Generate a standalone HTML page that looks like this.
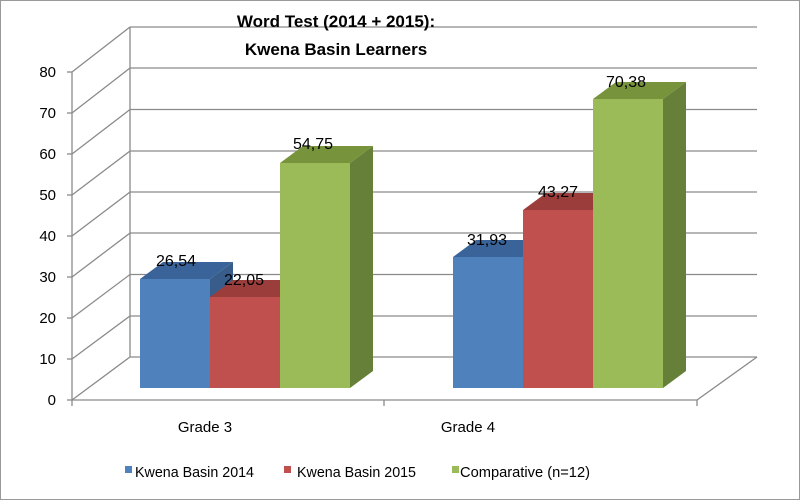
<!DOCTYPE html>
<html><head><meta charset="utf-8"><style>
html,body{margin:0;padding:0;background:#fff}
svg{display:block}
text{font-family:"Liberation Sans",sans-serif;fill:#000}
</style></head><body>
<svg width="800" height="500" viewBox="0 0 800 500" xmlns="http://www.w3.org/2000/svg">
<rect x="0.5" y="0.5" width="799" height="499" fill="#fff" stroke="#999"/>
<g stroke="#8a8a8a" stroke-width="1.3" fill="none">
<!-- back horizontal gridlines -->
<line x1="130" y1="27" x2="757" y2="27"/>
<line x1="130" y1="68" x2="757" y2="68"/>
<line x1="130" y1="109.5" x2="757" y2="109.5"/>
<line x1="130" y1="151" x2="757" y2="151"/>
<line x1="130" y1="192" x2="757" y2="192"/>
<line x1="130" y1="233" x2="757" y2="233"/>
<line x1="130" y1="274.5" x2="757" y2="274.5"/>
<line x1="130" y1="316" x2="757" y2="316"/>
<line x1="130" y1="357" x2="757" y2="357"/>
<!-- back wall left -->
<line x1="130" y1="27" x2="130" y2="357"/>
<!-- diagonals -->
<line x1="72" y1="72" x2="130" y2="27"/>
<line x1="72" y1="113" x2="130" y2="68"/>
<line x1="72" y1="154" x2="130" y2="109.5"/>
<line x1="72" y1="195" x2="130" y2="151"/>
<line x1="72" y1="236" x2="130" y2="192"/>
<line x1="72" y1="277" x2="130" y2="233"/>
<line x1="72" y1="318" x2="130" y2="274.5"/>
<line x1="72" y1="359" x2="130" y2="316"/>
<line x1="72" y1="400" x2="130" y2="357"/>
<!-- front axis -->
<line x1="72" y1="72" x2="72" y2="400"/>
<line x1="67" y1="72" x2="72" y2="72"/><line x1="67" y1="113" x2="72" y2="113"/><line x1="67" y1="154" x2="72" y2="154"/><line x1="67" y1="195" x2="72" y2="195"/><line x1="67" y1="236" x2="72" y2="236"/><line x1="67" y1="277" x2="72" y2="277"/><line x1="67" y1="318" x2="72" y2="318"/><line x1="67" y1="359" x2="72" y2="359"/><line x1="67" y1="400" x2="72" y2="400"/>
<line x1="72" y1="400" x2="697" y2="400"/>
<line x1="697" y1="400" x2="757" y2="357"/>
<line x1="72" y1="400" x2="72" y2="406"/><line x1="384" y1="400" x2="384" y2="406"/><line x1="697" y1="400" x2="697" y2="406"/>
</g>
<!-- Grade 3 bars -->
<g>
<polygon points="210,279 233,262 233,371 210,388" fill="#385D8A"/>
<polygon points="140,279 210,279 233,262 163,262" fill="#3A6499"/>
<rect x="140" y="279" width="70" height="109" fill="#4F81BD"/>
<polygon points="280,297 303,280 303,371 280,388" fill="#8C3836"/>
<polygon points="210,297 280,297 303,280 233,280" fill="#9B3D3A"/>
<rect x="210" y="297" width="70" height="91" fill="#C0504D"/>
<polygon points="350,163 373,146 373,371 350,388" fill="#66803A"/>
<polygon points="280,163 350,163 373,146 303,146" fill="#77933C"/>
<rect x="280" y="163" width="70" height="225" fill="#9BBB59"/>
</g>
<!-- Grade 4 bars -->
<g>
<polygon points="523,257 546,240 546,371 523,388" fill="#385D8A"/>
<polygon points="453,257 523,257 546,240 476,240" fill="#3A6499"/>
<rect x="453" y="257" width="70" height="131" fill="#4F81BD"/>
<polygon points="593,210 616,193 616,371 593,388" fill="#8C3836"/>
<polygon points="523,210 593,210 616,193 546,193" fill="#9B3D3A"/>
<rect x="523" y="210" width="70" height="178" fill="#C0504D"/>
<polygon points="663,99 686,82 686,371 663,388" fill="#66803A"/>
<polygon points="593,99 663,99 686,82 616,82" fill="#77933C"/>
<rect x="593" y="99" width="70" height="289" fill="#9BBB59"/>
</g>
<!-- data labels -->
<g font-size="16" text-anchor="middle">
<text x="176" y="266">26,54</text>
<text x="244" y="285">22,05</text>
<text x="313" y="149">54,75</text>
<text x="487" y="245">31,93</text>
<text x="558" y="197">43,27</text>
<text x="626" y="87">70,38</text>
</g>
<!-- y labels -->
<g font-size="15" text-anchor="end">
<text x="56" y="77">80</text><text x="56" y="118">70</text><text x="56" y="159">60</text><text x="56" y="200">50</text><text x="56" y="241">40</text><text x="56" y="282">30</text><text x="56" y="323">20</text><text x="56" y="364">10</text><text x="56" y="405">0</text>
</g>
<!-- title -->
<g font-size="17" font-weight="bold" text-anchor="middle">
<text x="336" y="27">Word Test (2014 + 2015):</text>
<text x="336" y="55">Kwena Basin Learners</text>
</g>
<!-- categories -->
<g font-size="15" text-anchor="middle">
<text x="205" y="432">Grade 3</text>
<text x="468" y="432">Grade 4</text>
</g>
<!-- legend -->
<rect x="125" y="466" width="7" height="7" fill="#4F81BD"/>
<text x="135" y="477" font-size="15" textLength="119" lengthAdjust="spacingAndGlyphs">Kwena Basin 2014</text>
<rect x="284" y="466" width="7" height="7" fill="#C0504D"/>
<text x="297" y="477" font-size="15" textLength="119" lengthAdjust="spacingAndGlyphs">Kwena Basin 2015</text>
<rect x="452" y="466" width="7" height="7" fill="#9BBB59"/>
<text x="460" y="477" font-size="15" textLength="130" lengthAdjust="spacingAndGlyphs">Comparative (n=12)</text>
</svg>
</body></html>
